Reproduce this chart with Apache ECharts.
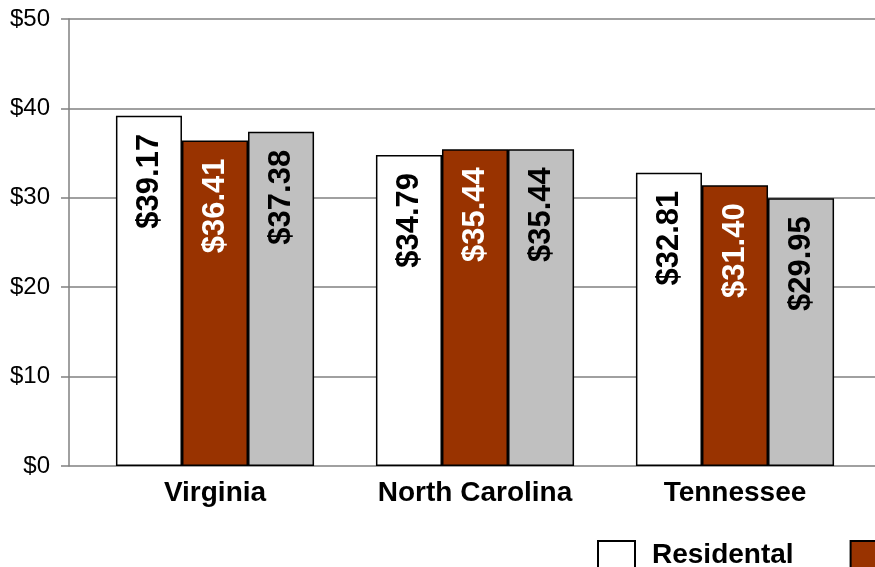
<!DOCTYPE html>
<html>
<head>
<meta charset="utf-8">
<script src="https://cdn.jsdelivr.net/npm/echarts@6/dist/echarts.min.js"></script>
<style>
html,body{margin:0;padding:0;background:#fff;}
#c{width:875px;height:567px;}
</style>
</head>
<body>
<div id="c"></div>
<script>
var categories = ['Virginia', 'North Carolina', 'Tennessee'];
var seriesNames = ['Residental', 'Commercial', 'Industrial'];
var residential = [39.17, 34.79, 32.81];
var commercial = [36.41, 35.44, 31.40];
var industrial = [37.38, 35.44, 29.95];
var yTicks = { min: 0, max: 50, interval: 10 };

var FONT = '"Liberation Sans", Arial, sans-serif';
var chart = echarts.init(document.getElementById('c'), null, { renderer: 'canvas' });

function labelCfg(color) {
  return {
    show: true,
    position: 'insideTop',
    rotate: 90,
    align: 'right',
    verticalAlign: 'middle',
    distance: 16,
    offset: [-2, 0],
    color: color,
    fontFamily: FONT,
    fontWeight: 'bold',
    fontSize: 31,
    formatter: function (p) { return '$' + p.value.toFixed(2); }
  };
}

function mkSeries(name, data, fill, labelColor) {
  return {
    name: name,
    type: 'bar',
    xAxisIndex: 1,
    yAxisIndex: 1,
    data: data,
    barGap: '0%',
    barCategoryGap: '23.8%',
    itemStyle: { color: fill, borderColor: '#000', borderWidth: 1.5 },
    label: labelCfg(labelColor)
  };
}

chart.setOption({
  animation: false,
  backgroundColor: '#fff',
  grid: [
    { left: 69, top: 19, width: 900, height: 447 },
    { left: 85, top: 19, width: 780, height: 447 }
  ],
  xAxis: [
    { gridIndex: 0, type: 'value', min: 0, max: 1, show: false },
    {
      gridIndex: 1, type: 'category', data: categories,
      axisLine: { show: false }, axisTick: { show: false },
      axisLabel: { color: '#000', fontFamily: FONT, fontWeight: 'bold', fontSize: 28, margin: 13 }
    }
  ],
  yAxis: [
    {
      gridIndex: 0, type: 'value', min: yTicks.min, max: yTicks.max, interval: yTicks.interval,
      axisLine: { show: true, lineStyle: { color: '#808080', width: 1.5 } },
      axisTick: { show: true, length: 8, lineStyle: { color: '#808080', width: 1.5 } },
      splitLine: { show: true, lineStyle: { color: '#808080', width: 1.5 } },
      axisLabel: { color: '#000', fontFamily: FONT, fontSize: 24, margin: 19,
        formatter: function (v) { return '$' + v; } }
    },
    { gridIndex: 1, type: 'value', min: yTicks.min, max: yTicks.max, show: false }
  ],
  legend: {
    left: 597, top: 539, width: 1200,
    padding: 0,
    itemWidth: 37, itemHeight: 28, itemGap: 56,
    icon: 'rect',
    itemStyle: { borderColor: '#000', borderWidth: 2 },
    textStyle: { color: '#000', fontFamily: FONT, fontWeight: 'bold', fontSize: 28, lineHeight: 28, padding: [4, 0, 0, 12] },
    data: seriesNames
  },
  series: [
    mkSeries(seriesNames[0], residential, '#FFFFFF', '#000'),
    mkSeries(seriesNames[1], commercial, '#993300', '#FFFFFF'),
    mkSeries(seriesNames[2], industrial, '#C0C0C0', '#000')
  ]
});
</script>
</body>
</html>
